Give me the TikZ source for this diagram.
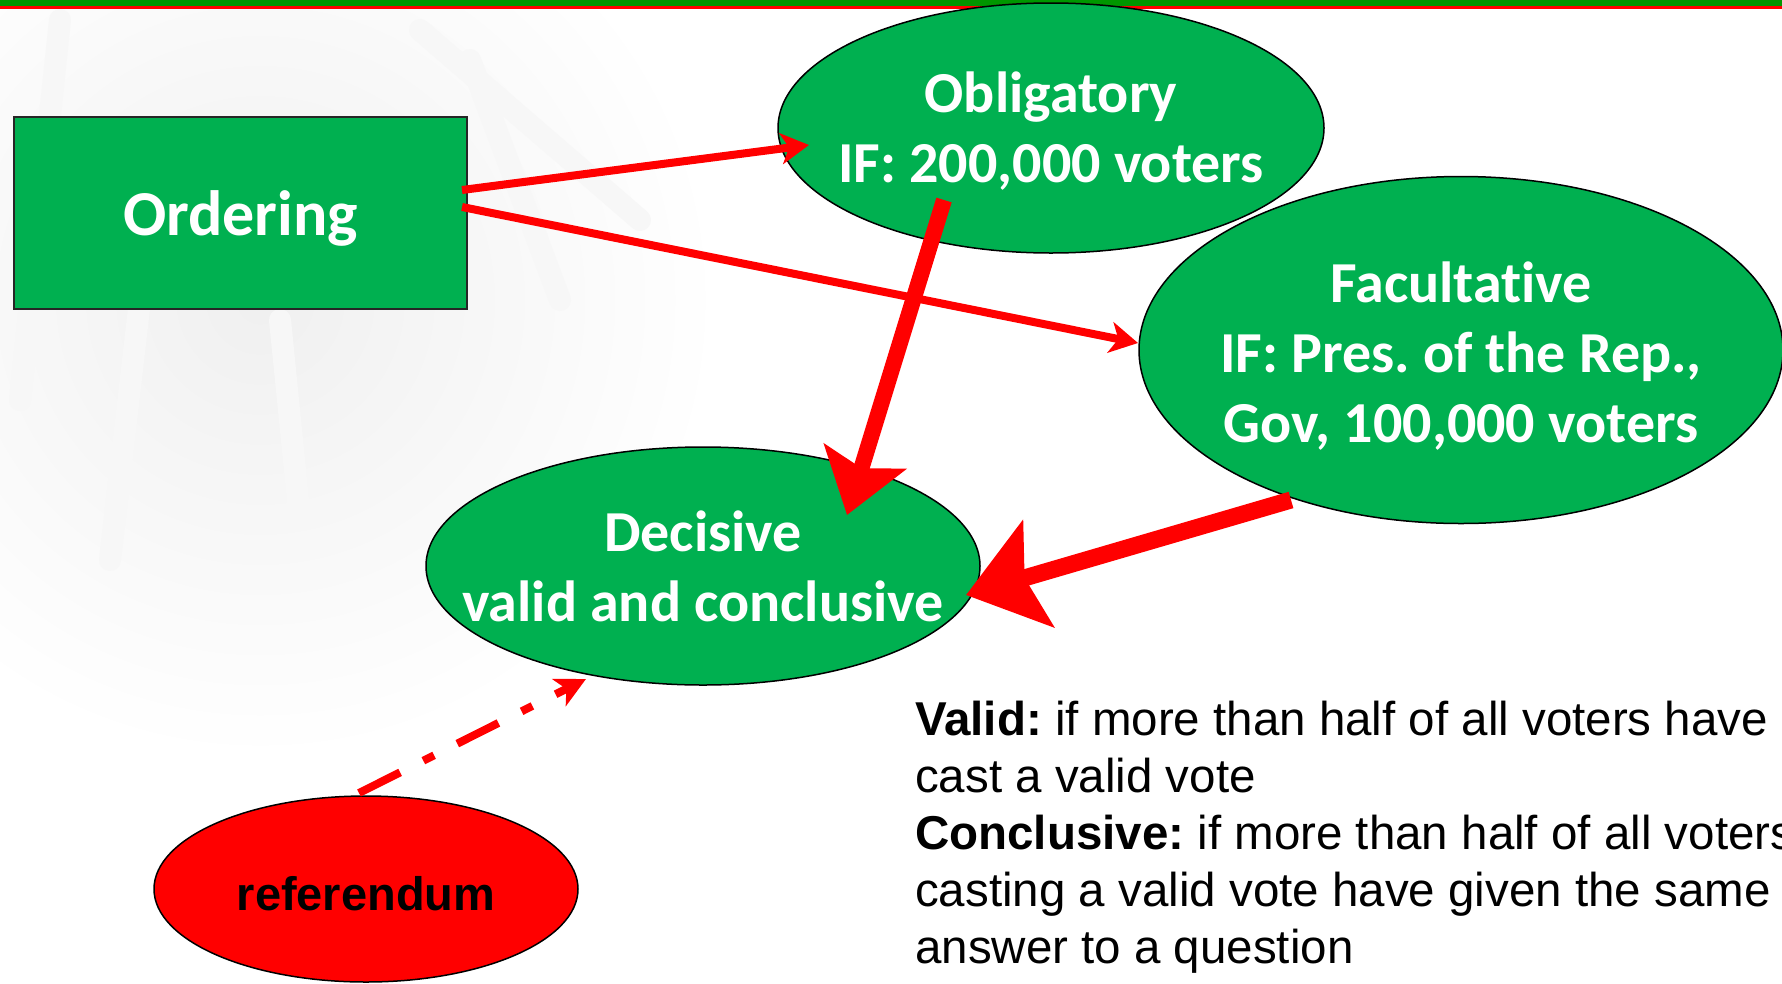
\documentclass[tikz,border=0pt]{standalone}
\usepackage{fontspec}
\setmainfont{Carlito}[Ligatures=NoCommon]
\newfontfamily\arialfont{Liberation Sans}
\usetikzlibrary{shapes.geometric,arrows.meta}
\definecolor{offgreen}{RGB}{0,176,80}
\definecolor{bandgreen}{RGB}{0,150,0}
\frenchspacing
\begin{document}
\begin{tikzpicture}[x=1pt,y=-1pt,
  greenell/.style={ellipse, fill=offgreen, draw=black, line width=1.5pt, text=white,
    font=\bfseries\fontsize{58}{70}\selectfont, align=center, inner sep=-150pt},
  smallarrow/.style={draw=red, line width=8pt, -{Stealth[length=28pt,width=31pt,inset=8pt]}},
  bigarrow/.style={draw=red, line width=16pt},
  ray/.style={line width=22pt, draw=black!3, line cap=round}]
\useasboundingbox (0,0) rectangle (1782,983);
\clip (0,0) rectangle (1782,983);
% background glow
\shade[inner color=black!6, outer color=white] (260,300) circle (460);
\draw[ray] (60,20) -- (20,400);
\draw[ray] (420,30) -- (640,220);
\draw[ray] (140,300) -- (110,560);
\draw[ray] (280,320) -- (300,520);
\draw[ray] (470,60) -- (560,300);
% top band
\fill[bandgreen] (0,0) rectangle (1782,6);
\fill[red] (0,6) rectangle (1782,8.5);
% nodes
\node[rectangle, fill=offgreen, draw=black!85, line width=2pt, text=white,
  font=\bfseries\fontsize{64}{70}\selectfont, minimum width=453pt, minimum height=192pt,
  inner sep=0pt, text depth=0pt] (order) at (240.5,213) {Ordering};
\node[greenell, minimum width=546pt, minimum height=250pt] (oblig) at (1051,128)
  {\rule{0pt}{47pt}Obligatory\\IF: 200,000 voters};
\node[greenell, minimum width=644pt, minimum height=347pt] (facult) at (1461,350)
  {\rule{0pt}{52pt}Facultative\\IF: Pres. of the Rep.,\\Gov, 100,000 voters};
\node[greenell, minimum width=554pt, minimum height=238pt] (decis) at (703,566)
  {Decisive\\valid and conclusive};
\node[ellipse, fill=red, draw=black, line width=1.5pt,
  font=\arialfont\bfseries\fontsize{47}{56}\selectfont, minimum width=424pt,
  minimum height=186pt, inner sep=-100pt] (ref) at (366,889) {\rule{0pt}{43pt}referendum};
\node[anchor=north west, inner sep=0pt, align=left,
  font=\arialfont\fontsize{47.5}{57}\selectfont] (note) at (915,701)
  {\textbf{Valid:} if more than half of all voters have\\
   cast a valid vote\\
   \textbf{Conclusive:} if more than half of all voters\\
   casting a valid vote have given the same\\
   answer to a question};
% connectors
\draw[smallarrow] ([shift={(-6,-23)}]order.east) -- ([shift={(-242,17)}]oblig.center);
\draw[smallarrow] ([shift={(-6,-6)}]order.east) -- ([shift={(-323,-7)}]facult.center);
\draw[bigarrow, -{Stealth[length=61pt,width=85pt,inset=12pt]}]
  ([shift={(-107,72)}]oblig.center) -- ([shift={(144,-51)}]decis.center);
\draw[bigarrow, line width=17pt, -{Stealth[length=75pt,width=110pt,inset=14pt]}]
  ([shift={(-170,150)}]facult.center) -- ([shift={(263,29)}]decis.center);
\draw[draw=red, line width=8pt, dash pattern=on 46pt off 26pt on 12pt off 26pt,
  -{Stealth[length=30pt,width=30pt,inset=8pt]}]
  ([shift={(-7,-96)}]ref.center) -- ([shift={(-117,113)}]decis.center);
\end{tikzpicture}
\end{document}
